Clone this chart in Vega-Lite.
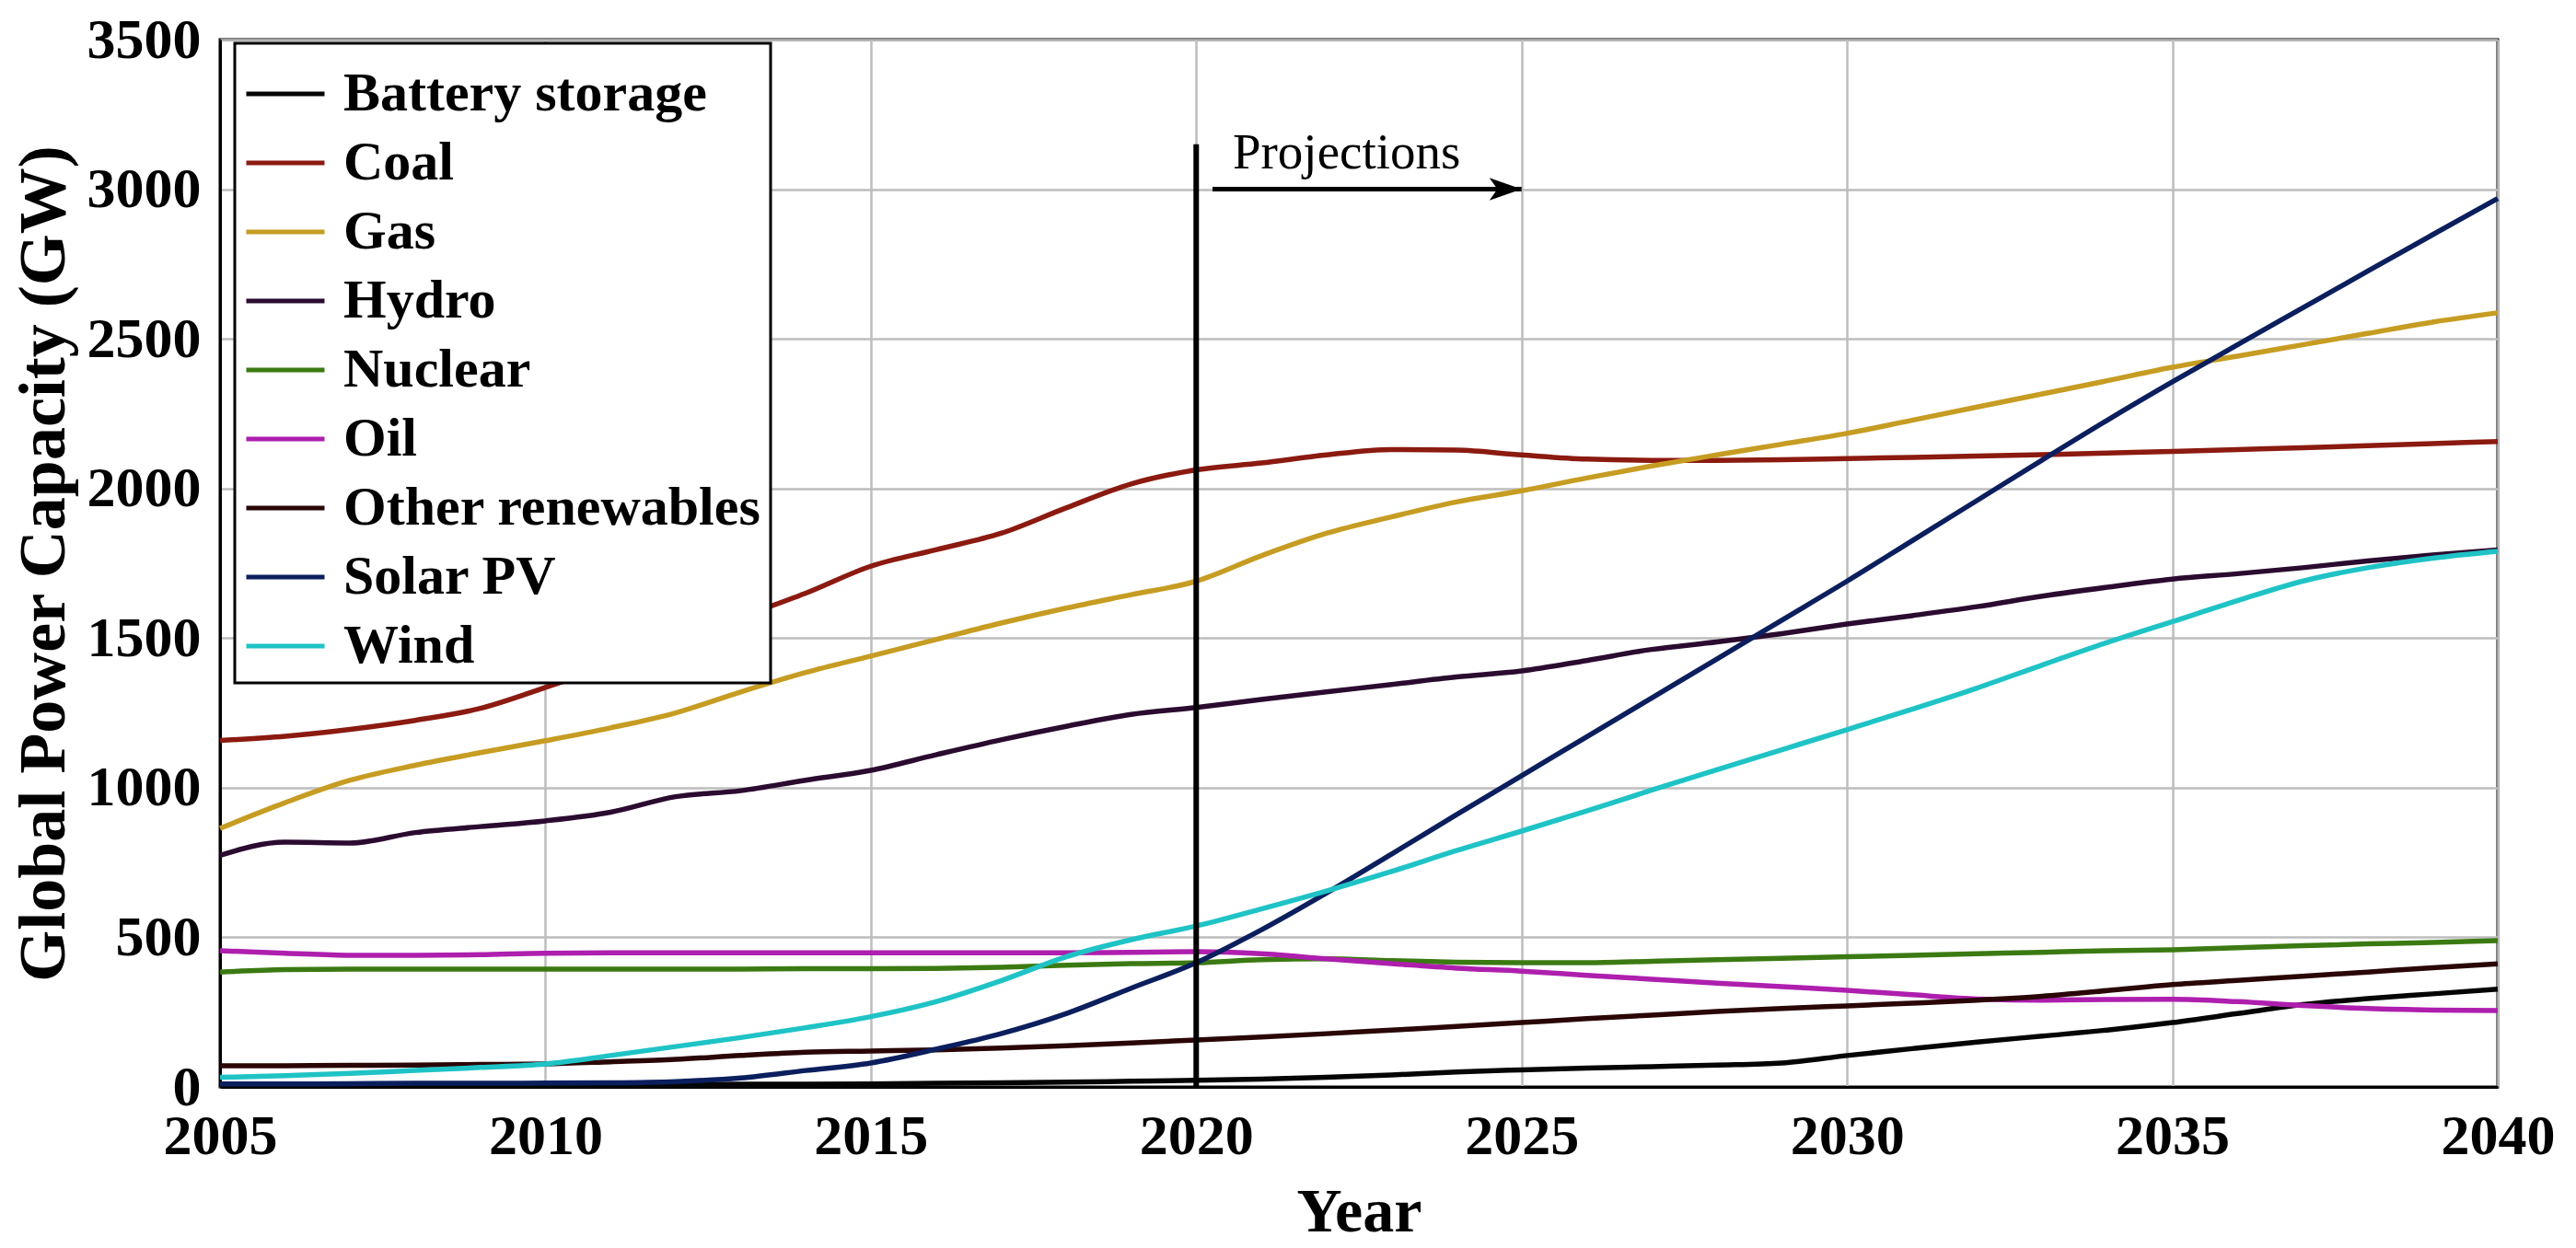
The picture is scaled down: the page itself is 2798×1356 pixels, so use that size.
{
  "$schema": "https://vega.github.io/schema/vega-lite/v6.json",
  "width": 2474,
  "height": 1138,
  "autosize": {"type": "none"},
  "padding": {"left": 239, "top": 43, "right": 85, "bottom": 175},
  "background": "white",
  "config": {
    "view": {"stroke": "black", "strokeWidth": 3},
    "font": "Liberation Serif"
  },
  "datasets": {
    "capacity": [
      {"year": 2005, "Battery storage": 8, "Coal": 1158, "Gas": 864, "Hydro": 774, "Nuclear": 384, "Oil": 455, "Other renewables": 71, "Solar PV": 10, "Wind": 32},
      {"year": 2006, "Battery storage": 8, "Coal": 1172, "Gas": 950, "Hydro": 818, "Nuclear": 392, "Oil": 447, "Other renewables": 71, "Solar PV": 10, "Wind": 38},
      {"year": 2007, "Battery storage": 8, "Coal": 1195, "Gas": 1025, "Hydro": 815, "Nuclear": 394, "Oil": 440, "Other renewables": 72, "Solar PV": 11, "Wind": 45},
      {"year": 2008, "Battery storage": 8, "Coal": 1225, "Gas": 1075, "Hydro": 850, "Nuclear": 394, "Oil": 440, "Other renewables": 73, "Solar PV": 12, "Wind": 55},
      {"year": 2009, "Battery storage": 8, "Coal": 1265, "Gas": 1117, "Hydro": 870, "Nuclear": 394, "Oil": 442, "Other renewables": 75, "Solar PV": 12, "Wind": 65},
      {"year": 2010, "Battery storage": 8, "Coal": 1335, "Gas": 1157, "Hydro": 889, "Nuclear": 394, "Oil": 447, "Other renewables": 77, "Solar PV": 13, "Wind": 77},
      {"year": 2011, "Battery storage": 8, "Coal": 1410, "Gas": 1200, "Hydro": 918, "Nuclear": 394, "Oil": 448, "Other renewables": 84, "Solar PV": 14, "Wind": 105},
      {"year": 2012, "Battery storage": 8, "Coal": 1490, "Gas": 1250, "Hydro": 970, "Nuclear": 394, "Oil": 448, "Other renewables": 92, "Solar PV": 18, "Wind": 135},
      {"year": 2013, "Battery storage": 9, "Coal": 1570, "Gas": 1320, "Hydro": 990, "Nuclear": 394, "Oil": 448, "Other renewables": 105, "Solar PV": 30, "Wind": 165},
      {"year": 2014, "Battery storage": 9, "Coal": 1650, "Gas": 1385, "Hydro": 1025, "Nuclear": 395, "Oil": 448, "Other renewables": 116, "Solar PV": 55, "Wind": 198},
      {"year": 2015, "Battery storage": 10, "Coal": 1740, "Gas": 1440, "Hydro": 1058, "Nuclear": 395, "Oil": 448, "Other renewables": 120, "Solar PV": 80, "Wind": 235},
      {"year": 2016, "Battery storage": 12, "Coal": 1795, "Gas": 1495, "Hydro": 1110, "Nuclear": 396, "Oil": 448, "Other renewables": 124, "Solar PV": 126, "Wind": 285},
      {"year": 2017, "Battery storage": 14, "Coal": 1850, "Gas": 1550, "Hydro": 1160, "Nuclear": 400, "Oil": 448, "Other renewables": 130, "Solar PV": 178, "Wind": 355},
      {"year": 2018, "Battery storage": 16, "Coal": 1935, "Gas": 1600, "Hydro": 1205, "Nuclear": 407, "Oil": 448, "Other renewables": 138, "Solar PV": 245, "Wind": 435},
      {"year": 2019, "Battery storage": 19, "Coal": 2015, "Gas": 1645, "Hydro": 1245, "Nuclear": 412, "Oil": 450, "Other renewables": 147, "Solar PV": 330, "Wind": 492},
      {"year": 2020, "Battery storage": 22, "Coal": 2062, "Gas": 1690, "Hydro": 1268, "Nuclear": 415, "Oil": 452, "Other renewables": 157, "Solar PV": 415, "Wind": 538},
      {"year": 2021, "Battery storage": 26, "Coal": 2085, "Gas": 1775, "Hydro": 1295, "Nuclear": 425, "Oil": 445, "Other renewables": 167, "Solar PV": 525, "Wind": 595},
      {"year": 2022, "Battery storage": 32, "Coal": 2112, "Gas": 1850, "Hydro": 1320, "Nuclear": 428, "Oil": 428, "Other renewables": 178, "Solar PV": 648, "Wind": 655},
      {"year": 2023, "Battery storage": 40, "Coal": 2130, "Gas": 1905, "Hydro": 1345, "Nuclear": 422, "Oil": 412, "Other renewables": 190, "Solar PV": 778, "Wind": 720},
      {"year": 2024, "Battery storage": 50, "Coal": 2128, "Gas": 1955, "Hydro": 1370, "Nuclear": 417, "Oil": 397, "Other renewables": 202, "Solar PV": 910, "Wind": 790},
      {"year": 2025, "Battery storage": 57, "Coal": 2112, "Gas": 1992, "Hydro": 1390, "Nuclear": 415, "Oil": 387, "Other renewables": 215, "Solar PV": 1040, "Wind": 855},
      {"year": 2026, "Battery storage": 63, "Coal": 2098, "Gas": 2035, "Hydro": 1425, "Nuclear": 415, "Oil": 373, "Other renewables": 228, "Solar PV": 1170, "Wind": 922},
      {"year": 2027, "Battery storage": 68, "Coal": 2094, "Gas": 2075, "Hydro": 1462, "Nuclear": 420, "Oil": 360, "Other renewables": 240, "Solar PV": 1300, "Wind": 992},
      {"year": 2028, "Battery storage": 73, "Coal": 2094, "Gas": 2112, "Hydro": 1487, "Nuclear": 425, "Oil": 347, "Other renewables": 252, "Solar PV": 1430, "Wind": 1060},
      {"year": 2029, "Battery storage": 80, "Coal": 2096, "Gas": 2148, "Hydro": 1515, "Nuclear": 430, "Oil": 335, "Other renewables": 262, "Solar PV": 1560, "Wind": 1127},
      {"year": 2030, "Battery storage": 105, "Coal": 2100, "Gas": 2184, "Hydro": 1547, "Nuclear": 435, "Oil": 323, "Other renewables": 271, "Solar PV": 1690, "Wind": 1194},
      {"year": 2031, "Battery storage": 128, "Coal": 2104, "Gas": 2228, "Hydro": 1575, "Nuclear": 440, "Oil": 308, "Other renewables": 280, "Solar PV": 1825, "Wind": 1262},
      {"year": 2032, "Battery storage": 150, "Coal": 2108, "Gas": 2272, "Hydro": 1605, "Nuclear": 445, "Oil": 294, "Other renewables": 290, "Solar PV": 1960, "Wind": 1333},
      {"year": 2033, "Battery storage": 170, "Coal": 2113, "Gas": 2316, "Hydro": 1640, "Nuclear": 450, "Oil": 290, "Other renewables": 303, "Solar PV": 2095, "Wind": 1410},
      {"year": 2034, "Battery storage": 190, "Coal": 2118, "Gas": 2360, "Hydro": 1670, "Nuclear": 455, "Oil": 292, "Other renewables": 322, "Solar PV": 2228, "Wind": 1485},
      {"year": 2035, "Battery storage": 215, "Coal": 2124, "Gas": 2405, "Hydro": 1697, "Nuclear": 458, "Oil": 293, "Other renewables": 342, "Solar PV": 2356, "Wind": 1555},
      {"year": 2036, "Battery storage": 245, "Coal": 2130, "Gas": 2442, "Hydro": 1715, "Nuclear": 465, "Oil": 285, "Other renewables": 356, "Solar PV": 2480, "Wind": 1625},
      {"year": 2037, "Battery storage": 275, "Coal": 2136, "Gas": 2480, "Hydro": 1735, "Nuclear": 472, "Oil": 272, "Other renewables": 370, "Solar PV": 2603, "Wind": 1690},
      {"year": 2038, "Battery storage": 295, "Coal": 2143, "Gas": 2518, "Hydro": 1758, "Nuclear": 478, "Oil": 262, "Other renewables": 384, "Solar PV": 2726, "Wind": 1735},
      {"year": 2039, "Battery storage": 311, "Coal": 2150, "Gas": 2556, "Hydro": 1778, "Nuclear": 483, "Oil": 257, "Other renewables": 398, "Solar PV": 2848, "Wind": 1767},
      {"year": 2040, "Battery storage": 327, "Coal": 2157, "Gas": 2587, "Hydro": 1795, "Nuclear": 489, "Oil": 255, "Other renewables": 411, "Solar PV": 2969, "Wind": 1790}
    ],
    "divider": [{"year": 2020, "low": 0, "high": 3150}],
    "arrow": [{"start": 2020.25, "end": 2025, "level": 3000, "label": "Projections", "labelLevel": 3070}]
  },
  "layer": [
    {
      "data": {"name": "capacity"},
      "transform": [
        {"fold": ["Battery storage", "Coal", "Gas", "Hydro", "Nuclear", "Oil", "Other renewables", "Solar PV", "Wind"], "as": ["source", "gw"]}
      ],
      "mark": {"type": "line", "strokeWidth": 5.5, "interpolate": "monotone"},
      "encoding": {
        "x": {
          "field": "year", "type": "quantitative",
          "scale": {"domain": [2005, 2040], "nice": false, "zero": false},
          "axis": {
            "values": [2005, 2010, 2015, 2020, 2025, 2030, 2035, 2040],
            "format": "d",
            "title": "Year",
            "grid": true, "gridColor": "#bdbdbd", "gridWidth": 2.5,
            "domain": true, "domainColor": "black", "domainWidth": 3,
            "ticks": false, "tickSize": 0,
            "labelFont": "Liberation Serif", "labelFontWeight": "bold", "labelFontSize": 62, "labelColor": "black",
            "labelPadding": 23, "labelFlush": false, "labelOverlap": false,
            "titleFont": "Liberation Serif", "titleFontWeight": "bold", "titleFontSize": 68, "titleColor": "black",
            "titlePadding": 18
          }
        },
        "y": {
          "field": "gw", "type": "quantitative",
          "scale": {"domain": [0, 3500], "nice": false},
          "axis": {
            "values": [0, 500, 1000, 1500, 2000, 2500, 3000, 3500],
            "format": "d",
            "title": "Global Power Capacity (GW)",
            "grid": true, "gridColor": "#bdbdbd", "gridWidth": 2.5,
            "domain": true, "domainColor": "black", "domainWidth": 3,
            "ticks": false, "tickSize": 0,
            "labelFont": "Liberation Serif", "labelFontWeight": "bold", "labelFontSize": 62, "labelColor": "black",
            "labelPadding": 21, "labelFlush": false, "labelOverlap": false,
            "titleFont": "Liberation Serif", "titleFontWeight": "bold", "titleFontSize": 72, "titleColor": "black",
            "titlePadding": 10
          }
        },
        "color": {
          "field": "source", "type": "nominal",
          "scale": {
            "domain": ["Battery storage", "Coal", "Gas", "Hydro", "Nuclear", "Oil", "Other renewables", "Solar PV", "Wind"],
            "range": ["#050505", "#8B1A10", "#C69C22", "#2B0B30", "#3B7A12", "#AE1FAE", "#2A0606", "#0B1F5E", "#1FC3C6"]
          },
          "legend": {
            "title": null,
            "orient": "none", "legendX": 16, "legendY": 4,
            "fillColor": "white", "strokeColor": "black",
            "padding": 10,
            "symbolType": "stroke", "symbolSize": 7225, "symbolStrokeWidth": 5,
            "labelFont": "Liberation Serif", "labelFontWeight": "bold", "labelFontSize": 60, "labelColor": "black",
            "labelOffset": 18, "labelLimit": 0, "rowPadding": 0,
            "encode": {"legend": {"update": {"strokeWidth": {"value": 3}}}}
          }
        }
      }
    },
    {
      "data": {"name": "divider"},
      "mark": {"type": "rule", "color": "black", "strokeWidth": 6},
      "encoding": {
        "x": {"field": "year", "type": "quantitative"},
        "y": {"field": "low", "type": "quantitative"},
        "y2": {"field": "high"}
      }
    },
    {
      "data": {"name": "arrow"},
      "mark": {"type": "rule", "color": "black", "strokeWidth": 5},
      "encoding": {
        "x": {"field": "start", "type": "quantitative"},
        "x2": {"field": "end"},
        "y": {"field": "level", "type": "quantitative"}
      }
    },
    {
      "data": {"name": "arrow"},
      "mark": {"type": "point", "filled": true, "color": "black", "opacity": 1, "size": 4900, "shape": "M0,0L-1,-0.35L-0.75,0L-1,0.35Z"},
      "encoding": {
        "x": {"field": "end", "type": "quantitative"},
        "y": {"field": "level", "type": "quantitative"}
      }
    },
    {
      "data": {"name": "arrow"},
      "mark": {"type": "text", "align": "left", "baseline": "alphabetic", "dx": 22, "font": "Liberation Serif", "fontSize": 55, "color": "black"},
      "encoding": {
        "x": {"field": "start", "type": "quantitative"},
        "y": {"field": "labelLevel", "type": "quantitative"},
        "text": {"field": "label"}
      }
    }
  ]
}
